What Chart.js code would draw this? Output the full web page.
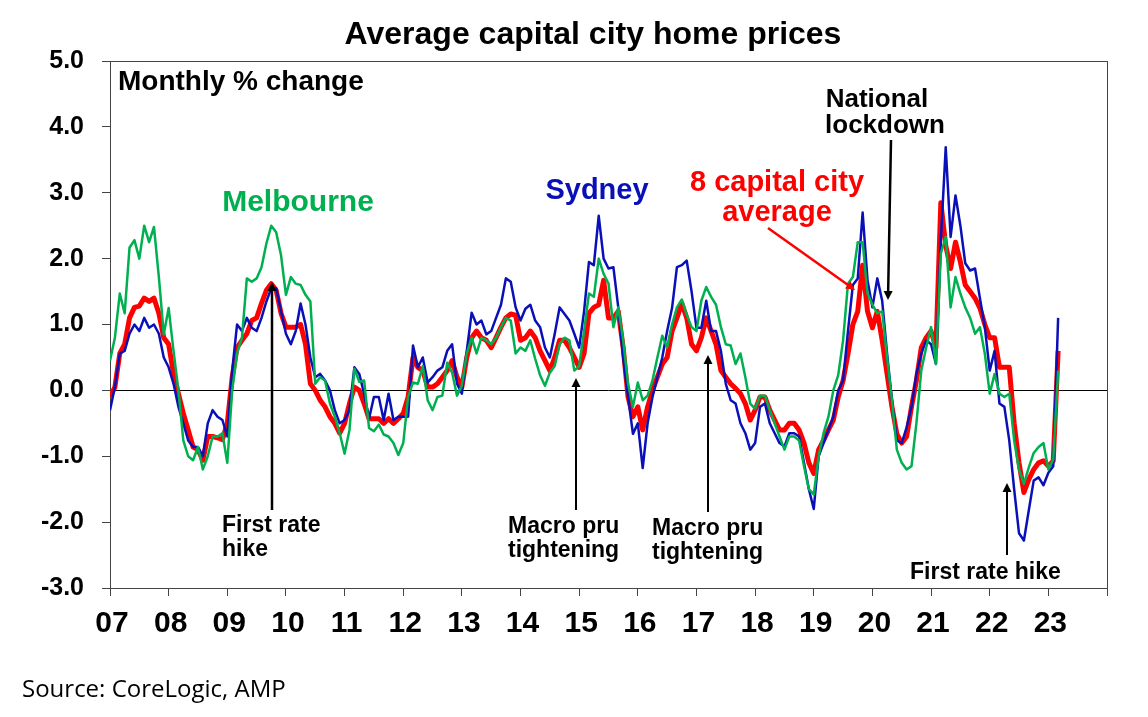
<!DOCTYPE html>
<html><head><meta charset="utf-8">
<script src="https://cdn.jsdelivr.net/npm/chart.js@4.4.1/dist/chart.umd.min.js"></script>
<style>html,body{margin:0;padding:0;background:#fff;}#wrap{width:1148px;height:717px;position:relative;}</style>
</head><body><div id="wrap"><canvas id="c" width="1148" height="717"></canvas></div>
<script>
// Monthly % change, Jan 2007 .. Mar 2023
const yearLabels = ['07','08','09','10','11','12','13','14','15','16','17','18','19','20','21','22','23'];
const sydney = [
-0.3,0.05,0.56,0.6,0.86,1.0,0.9,1.1,0.95,1.0,0.86,0.5,
0.35,0.1,-0.25,-0.5,-0.76,-0.86,-0.86,-1.0,-0.5,-0.3,-0.4,-0.45,
-0.7,0.3,1.0,0.9,1.1,0.95,0.9,1.1,1.35,1.55,1.55,1.2,
0.86,0.7,0.9,1.32,1.0,0.5,0.2,0.25,0.15,0.0,-0.3,-0.5,
-0.45,-0.3,0.35,0.25,-0.05,-0.43,-0.1,-0.1,-0.45,-0.05,-0.45,-0.4,
-0.4,-0.4,0.68,0.35,0.5,0.12,0.2,0.3,0.35,0.6,0.7,0.1,
-0.05,0.6,1.18,1.0,1.06,0.85,0.9,1.1,1.3,1.7,1.65,1.26,
1.06,1.24,1.3,1.06,0.96,0.65,0.5,0.86,1.26,1.16,1.06,0.86,
0.65,1.2,1.95,1.9,2.65,2.0,1.85,1.87,1.26,0.5,-0.1,-0.66,
-0.5,-1.18,-0.5,-0.1,0.2,0.5,0.9,1.25,1.87,1.9,1.97,1.5,
0.95,0.95,1.36,0.9,0.9,0.6,0.1,-0.15,-0.2,-0.5,-0.65,-0.9,
-0.8,-0.25,-0.2,-0.5,-0.65,-0.8,-0.85,-0.65,-0.65,-0.7,-1.1,-1.5,
-1.8,-1.0,-0.8,-0.6,-0.4,0.0,0.15,0.9,1.6,1.7,2.7,1.67,
1.26,1.7,1.36,0.56,-0.15,-0.76,-0.8,-0.56,-0.25,0.25,0.56,0.76,
0.7,0.4,2.28,3.69,2.33,2.96,2.5,1.93,1.82,1.85,1.4,0.96,
0.3,0.6,-0.2,-0.25,-0.76,-1.5,-2.17,-2.28,-1.82,-1.37,-1.32,-1.44,
-1.25,-1.15,1.1];
const melbourne = [
0.45,0.8,1.47,1.17,2.17,2.28,2.0,2.5,2.25,2.48,1.72,0.85,
1.25,0.6,0.0,-0.76,-1.0,-1.06,-0.86,-1.2,-1.0,-0.7,-0.7,-0.65,
-1.1,0.0,0.56,0.8,1.7,1.65,1.7,1.87,2.23,2.5,2.4,2.05,
1.45,1.72,1.62,1.6,1.45,1.35,0.1,0.2,0.15,-0.2,-0.4,-0.65,
-0.96,-0.6,0.33,0.13,0.15,-0.57,-0.62,-0.52,-0.67,-0.7,-0.8,-0.98,
-0.8,-0.1,0.12,0.1,0.37,-0.15,-0.3,-0.1,-0.08,0.42,0.27,-0.08,
0.07,0.56,0.8,0.56,0.8,0.76,0.7,0.8,0.96,1.1,1.06,0.56,
0.65,0.6,0.76,0.48,0.23,0.07,0.27,0.37,0.7,0.8,0.76,0.3,
0.37,0.9,1.47,1.42,2.0,1.77,1.62,0.96,1.26,0.76,0.1,-0.25,
0.12,-0.15,-0.08,0.15,0.5,0.83,0.65,1.0,1.26,1.38,1.15,0.96,
0.9,1.36,1.57,1.42,1.3,0.96,0.7,0.68,0.4,0.56,0.2,-0.2,
-0.28,-0.08,-0.08,-0.3,-0.5,-0.7,-0.9,-0.7,-0.7,-0.76,-1.15,-1.5,
-1.58,-1.0,-0.65,-0.4,0.0,0.23,0.76,1.62,1.72,2.25,2.25,1.47,
1.3,1.17,1.2,0.5,-0.15,-0.9,-1.1,-1.2,-1.15,-0.5,0.3,0.65,
0.96,0.4,2.08,2.33,1.26,1.72,1.47,1.26,1.1,0.86,0.96,0.56,
-0.05,0.25,-0.05,-0.1,-0.05,-0.76,-1.2,-1.42,-1.17,-0.95,-0.86,-0.8,
-1.2,-1.05,0.3];
const capitalAvg = [
-0.1,0.05,0.56,0.7,1.1,1.26,1.28,1.4,1.35,1.4,1.17,0.8,
0.7,0.25,-0.05,-0.35,-0.6,-0.86,-0.9,-1.06,-0.7,-0.7,-0.72,-0.75,
-0.5,0.2,0.65,0.76,0.86,1.06,1.1,1.32,1.52,1.62,1.52,1.17,
0.96,0.96,0.96,1.0,0.7,0.1,0.0,-0.15,-0.25,-0.4,-0.5,-0.65,
-0.5,-0.2,0.05,0.0,-0.2,-0.43,-0.43,-0.43,-0.5,-0.43,-0.5,-0.43,
-0.35,-0.1,0.5,0.35,0.3,0.05,0.05,0.1,0.2,0.3,0.45,0.2,
0.05,0.5,0.8,0.9,0.8,0.76,0.65,0.8,0.96,1.1,1.16,1.14,
0.76,0.8,0.9,0.8,0.6,0.45,0.3,0.5,0.76,0.76,0.65,0.5,
0.35,0.56,1.17,1.26,1.3,1.67,1.1,1.1,1.2,0.65,-0.1,-0.4,
-0.25,-0.6,-0.25,0.0,0.2,0.4,0.5,0.9,1.1,1.32,1.1,0.7,
0.6,0.8,1.1,0.9,0.7,0.3,0.2,0.1,0.03,-0.05,-0.2,-0.45,
-0.3,-0.1,-0.1,-0.3,-0.45,-0.6,-0.6,-0.5,-0.5,-0.6,-0.8,-1.1,
-1.26,-0.9,-0.76,-0.6,-0.45,-0.1,0.15,0.55,1.0,1.2,1.9,1.2,
0.95,1.2,0.76,0.25,-0.25,-0.66,-0.8,-0.7,-0.25,0.15,0.65,0.8,
0.9,0.65,2.85,2.2,1.85,2.25,1.95,1.6,1.5,1.4,1.25,1.0,
0.8,0.8,0.35,0.35,0.35,-0.5,-1.1,-1.55,-1.35,-1.2,-1.1,-1.07,
-1.15,-1.07,0.6];

const pts = a => a.map((v,i)=>({x:i,y:v}));
const F = '"Liberation Sans", Arial, sans-serif';

const deco = {
  id:'deco',
  beforeDatasetsDraw(ch){
    const {ctx, chartArea:a, scales:{y}} = ch;
    ctx.save();
    ctx.strokeStyle='#000'; ctx.lineWidth=1;
    const z = Math.round(y.getPixelForValue(0))+0.5;
    ctx.beginPath(); ctx.moveTo(a.left,z); ctx.lineTo(a.right,z); ctx.stroke();
    ctx.strokeStyle='#444';
    ctx.strokeRect(a.left+0.5,a.top+0.5,a.right-a.left,a.bottom-a.top);
    ctx.restore();
  },
  afterDraw(ch){
    const ctx = ch.ctx;
    ctx.save();
    ctx.textBaseline='middle';
    const t=(s,x,y,font,col,al)=>{ctx.font=font;ctx.fillStyle=col;ctx.textAlign=al||'center';ctx.fillText(s,x,y);};
    t('Average capital city home prices',593,35,'bold 32px '+F,'#000');
    t('Monthly % change',118,82,'bold 28px '+F,'#000','left');
    t('Melbourne',298,203,'bold 30px '+F,'#00B050');
    t('Sydney',597,191,'bold 29px '+F,'#0A10B8');
    t('8 capital city',777,183,'bold 29px '+F,'#FF0000');
    t('average',777,213,'bold 29px '+F,'#FF0000');
    t('National',877,100,'bold 26px '+F,'#000');
    t('lockdown',885,126,'bold 26px '+F,'#000');
    const s='bold 23px '+F;
    t('First rate',222,526,s,'#000','left'); t('hike',222,550,s,'#000','left');
    t('Macro pru',508,527,s,'#000','left'); t('tightening',508,551,s,'#000','left');
    t('Macro pru',652,529,s,'#000','left'); t('tightening',652,553,s,'#000','left');
    t('First rate hike',910,573,s,'#000','left');
    t('Source: CoreLogic, AMP',22,690,'24px "Open Sans", sans-serif','#000','left');
    const arrow=(x1,y1,x2,y2,col,w)=>{
      ctx.strokeStyle=col;ctx.fillStyle=col;ctx.lineWidth=w;
      const ang=Math.atan2(y2-y1,x2-x1), h=9;
      ctx.beginPath();ctx.moveTo(x1,y1);ctx.lineTo(x2-Math.cos(ang)*h*0.8,y2-Math.sin(ang)*h*0.8);ctx.stroke();
      ctx.beginPath();ctx.moveTo(x2,y2);
      ctx.lineTo(x2-h*Math.cos(ang)+4.5*Math.sin(ang),y2-h*Math.sin(ang)-4.5*Math.cos(ang));
      ctx.lineTo(x2-h*Math.cos(ang)-4.5*Math.sin(ang),y2-h*Math.sin(ang)+4.5*Math.cos(ang));
      ctx.closePath();ctx.fill();
    };
    arrow(272,510,272,282,'#000',2.5);
    arrow(576,510,576,378,'#000',2);
    arrow(708,512,708,355,'#000',2);
    arrow(891,140,888,300,'#000',2.5);
    arrow(1007,555,1007,483,'#000',2);
    arrow(768,228,855,290,'#FF0000',2.5);
    ctx.restore();
  }
};

new Chart(document.getElementById('c'),{
  type:'line',
  data:{datasets:[
    {label:'Melbourne',data:pts(melbourne),borderColor:'#00B050',borderWidth:2.5,order:1},
    {label:'Sydney',data:pts(sydney),borderColor:'#0A10B8',borderWidth:2.5,order:2},
    {label:'8 capital city average',data:pts(capitalAvg),borderColor:'#FF0000',borderWidth:5,order:3}
  ]},
  options:{
    responsive:false,animation:false,
    layout:{padding:{top:61,right:41,bottom:0,left:0}},
    elements:{point:{radius:0},line:{tension:0,borderJoinStyle:'round'}},
    plugins:{legend:{display:false},tooltip:{enabled:false}},
    scales:{
      x:{type:'linear',min:0,max:204,
        afterFit(s){s.height=129;},
        border:{color:'#444'},
        grid:{drawOnChartArea:false,tickColor:'#444',tickLength:8},
        ticks:{stepSize:12,autoSkip:false,maxRotation:0,labelOffset:2,padding:10,color:'#000',
          font:{family:F,size:30,weight:'bold'},
          callback:v=>{const k=v/12;return (Number.isInteger(k)&&k<yearLabels.length)?yearLabels[k]:'';}}},
      y:{min:-3,max:5,
        afterFit(s){s.width=110;},
        border:{color:'#444'},
        grid:{drawOnChartArea:false,tickColor:'#444',tickLength:8},
        ticks:{stepSize:1,color:'#000',padding:18,font:{family:F,size:25,weight:'bold'},callback:v=>v.toFixed(1)}}
    }
  },
  plugins:[deco]
});
</script></body></html>
